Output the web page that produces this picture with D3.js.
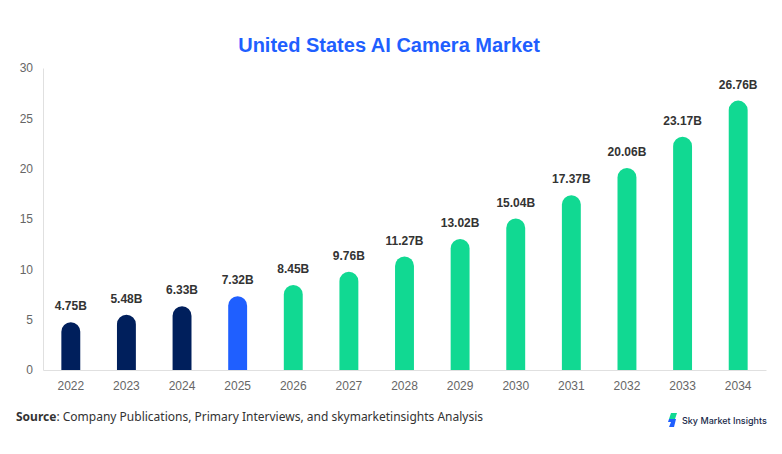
<!DOCTYPE html>
<html><head><meta charset="utf-8">
<script src="https://cdn.jsdelivr.net/npm/d3@7"></script>
<style>body{margin:0;background:#fff}svg{display:block}</style>
</head><body>
<svg id="c" width="782" height="454"></svg>
<script>
const years = ["2022","2023","2024","2025","2026","2027","2028","2029","2030","2031","2032","2033","2034"];
const values = [4.75,5.48,6.33,7.32,8.45,9.76,11.27,13.02,15.04,17.37,20.06,23.17,26.76];
const yTicks = [0,5,10,15,20,25,30];
const colorFor = y => (+y < 2025 ? "#001f5c" : (+y === 2025 ? "#1f5fff" : "#11d992"));

const svg = d3.select("#c");
const L = 43, R = 766, T = 68, B = 370;
const x = d3.scaleBand().domain(years).range([L, R]).paddingInner(0.66).paddingOuter(0.33);
const y = d3.scaleLinear().domain([0, 30]).range([B, T]);

svg.append("text").attr("x", 389).attr("y", 52).attr("text-anchor", "middle")
  .attr("font-family", "Liberation Sans, Arial, sans-serif").attr("font-weight", "bold")
  .attr("font-size", 20).attr("fill", "#1f5fff").text("United States AI Camera Market");

// axes
const ya = svg.append("g").attr("transform", `translate(${L},0)`)
  .call(d3.axisLeft(y).tickValues(yTicks).tickSize(0).tickPadding(10));
ya.select(".domain").attr("stroke", "#e0e0e0");
ya.selectAll("text").attr("font-family", "Liberation Sans, Arial, sans-serif").attr("font-size", 12).attr("fill", "#666");

const xa = svg.append("g").attr("transform", `translate(0,${B})`)
  .call(d3.axisBottom(x).tickSize(0).tickPadding(11));
xa.select(".domain").attr("stroke", "#e0e0e0");
xa.selectAll("text").attr("font-family", "Liberation Sans, Arial, sans-serif").attr("font-size", 12).attr("fill", "#666");

// bars with rounded tops
const bw = x.bandwidth(), r = bw / 2;
svg.append("g").selectAll("path").data(years).join("path")
  .attr("fill", d => colorFor(d))
  .attr("d", (d, i) => {
    const x0 = x(d), yt = y(values[i]), yb = B;
    return `M${x0},${yb}V${yt + r}A${r},${r} 0 0 1 ${x0 + bw},${yt + r}V${yb}Z`;
  });

svg.append("g").selectAll("text").data(years).join("text")
  .attr("x", d => x(d) + bw / 2)
  .attr("y", (d, i) => y(values[i]) - 12)
  .attr("text-anchor", "middle")
  .attr("font-family", "Liberation Sans, Arial, sans-serif").attr("font-weight", "bold")
  .attr("font-size", 12).attr("fill", "#333")
  .text((d, i) => values[i].toFixed(2) + "B");

// source
const s = svg.append("text").attr("x", 16).attr("y", 421)
  .attr("font-family", "Noto Sans, Open Sans, sans-serif").attr("font-size", 12).attr("fill", "#333");
s.append("tspan").attr("font-weight", "bold").text("Source");
s.append("tspan").text(": Company Publications, Primary Interviews, and skymarketinsights Analysis");

// logo
const lg = svg.append("g").attr("transform", "translate(668,413)");
lg.append("path").attr("d", "M3,0H9L7,6H1Z").attr("fill", "#11d992");
lg.append("path").attr("d", "M1,6H8L6,14H1L3,9H0Z").attr("fill", "#1f5fff");
lg.append("text").attr("x", 14).attr("y", 10.5)
  .attr("font-family", "Inter, Noto Sans, sans-serif").attr("font-size", 9).attr("font-weight", 500)
  .attr("fill", "#1a2a4a").text("Sky Market Insights");
</script>
</body></html>
